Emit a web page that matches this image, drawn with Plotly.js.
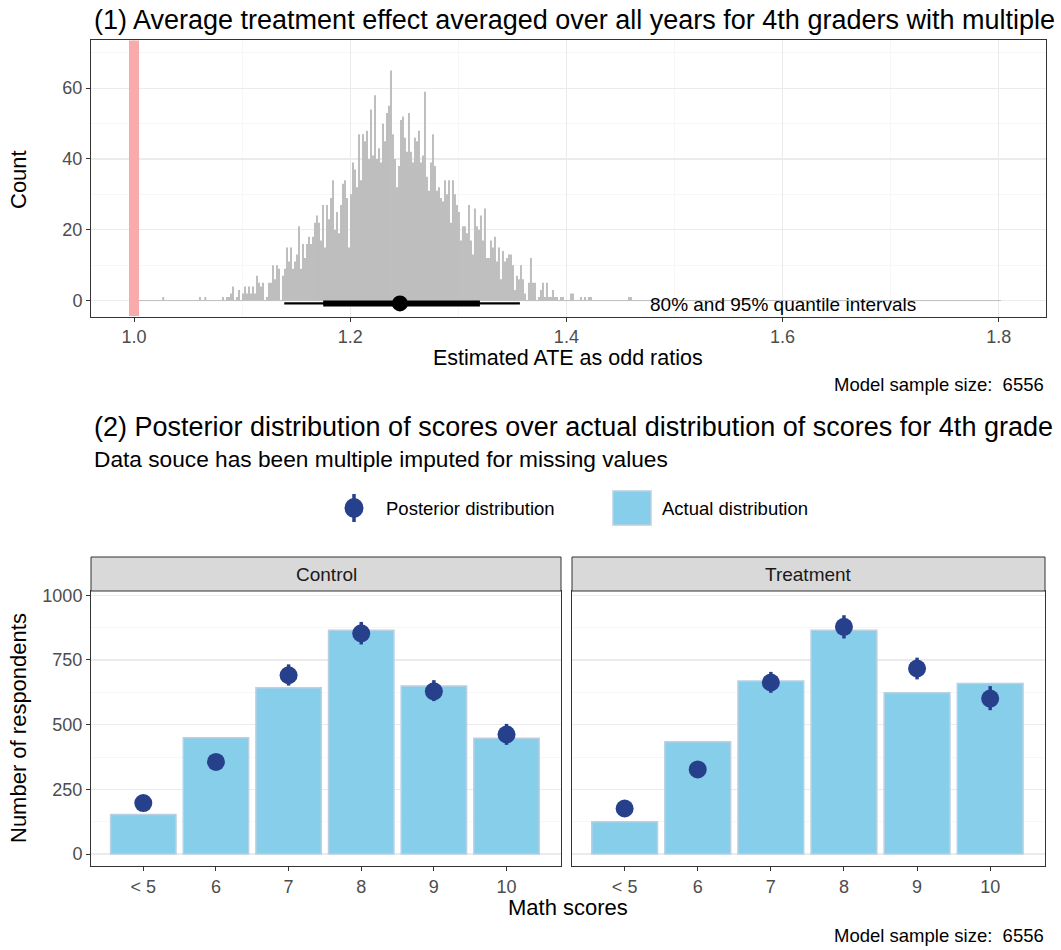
<!DOCTYPE html>
<html>
<head>
<meta charset="utf-8">
<script src="https://cdn.plot.ly/plotly-3.0.1.min.js"></script>
<style>html,body{margin:0;padding:0;background:#fff;}#chart{width:1061px;height:950px;}</style>
</head>
<body>
<div id="chart"></div>
<script>
// ---------- Panel (1) data: histogram of estimated ATE (odds ratios) ----------
const histStart = 1.0814;      // left edge of first listed bin
const binWidth = 0.00185;      // bin width (odds-ratio units)
const histCounts = [
  1,0,
  1,1,2,4,0,1,3,0,2,4,2,4,2,4,2,7,5,4,5,0,1,5,5,10,6,10,9,0,7,9,15,11,15,9,11,13,21,9,16,12,16,18,
  16,18,22,24,22,17,27,15,27,23,29,34,20,25,19,27,33,34,29,15,30,39,37,32,47,34,47,45,48,40,54,41,58,40,43,39,50,45,53,55,
  65,47,40,32,38,51,52,46,42,53,42,39,46,45,48,39,41,59,35,31,39,47,38,31,32,29,28,34,30,34,22,34,30,27,25,17,21,21,19,27,
  17,13,26,21,20,24,17,26,12,12,17,15,18,11,15,6,14,11,12,13,13,10,3,7,6,10,6,2,0,5,12,5,5,0,1,3,5,1,5,1,
  1,3,1,1,0,1,1,0,0,0,2,2,0,0,0,1,0,1,0,1,1,0,0,0,0,0,0,0,0,0,0,0,0,0,0,0,0,0,0,1,1
];
const tailValues = [1.027, 1.061, 1.066];   // isolated low draws
const tailCounts = [1, 1, 1];
const histRange = [1.004, 1.802];           // full data range (zero-count bins)
const nullValue = 1.0;
const q95 = [1.139, 1.357];
const q80 = [1.175, 1.320];
const medianATE = 1.246;
const xTicks1 = [1.0, 1.2, 1.4, 1.6, 1.8];
const xTickText1 = ['1.0', '1.2', '1.4', '1.6', '1.8'];
const yTicks1 = [0, 20, 40, 60];
const sampleSize = 6556;

// ---------- Panel (2) data: posterior vs actual score distribution ----------
const scoreCats = ['< 5', '6', '7', '8', '9', '10'];
const ctrlActual = [153, 449, 643, 865, 649, 447];
const ctrlPost   = [197, 356, 691, 853, 629, 462];
const ctrlLow    = [180, 338, 651, 810, 591, 422];
const ctrlHigh   = [215, 374, 733, 897, 672, 503];
const treatActual = [125, 434, 669, 865, 623, 659];
const treatPost   = [176, 327, 663, 878, 717, 601];
const treatLow    = [159, 310, 623, 833, 675, 556];
const treatHigh   = [194, 345, 704, 923, 759, 649];
const yTicks2 = [0, 250, 500, 750, 1000];

// ---------- styling ----------
const W = 1061, H = 950;
const FONT = 'Liberation Sans, Arial, Helvetica, sans-serif';
const GRAY = '#BEBEBE', DARK = '#27408B', SKY = '#87CEEB';
const px = v => v / W;
const py = v => 1 - v / H;

const binCenters = histCounts.map((c, i) => histStart + (i + 0.5) * binWidth);

const traces = [];
traces.push({type: 'scatter', mode: 'lines', x: histRange, y: [0, 0], xaxis: 'x', yaxis: 'y',
  line: {color: GRAY, width: 1}, hoverinfo: 'skip', showlegend: false});
traces.push({type: 'bar', x: binCenters, y: histCounts, width: binWidth, xaxis: 'x', yaxis: 'y',
  marker: {color: GRAY, line: {width: 0}}, showlegend: false});
traces.push({type: 'bar', x: tailValues, y: tailCounts, width: binWidth, xaxis: 'x', yaxis: 'y',
  marker: {color: GRAY, line: {width: 0}}, showlegend: false});
traces.push({type: 'scatter', mode: 'lines', x: q95, y: [-0.8, -0.8], xaxis: 'x', yaxis: 'y',
  line: {color: '#000', width: 2.2}, showlegend: false});
traces.push({type: 'scatter', mode: 'lines', x: q80, y: [-0.8, -0.8], xaxis: 'x', yaxis: 'y',
  line: {color: '#000', width: 6}, showlegend: false});
traces.push({type: 'scatter', mode: 'markers', x: [medianATE], y: [-0.8], xaxis: 'x', yaxis: 'y',
  marker: {color: '#000', size: 16}, showlegend: false});

function facet(actual, post, low, high, xa, ya) {
  traces.push({type: 'bar', x: scoreCats, y: actual, width: 0.9, xaxis: xa, yaxis: ya,
    marker: {color: SKY, line: {color: '#B9D0E2', width: 1.5}}, showlegend: false});
  traces.push({type: 'scatter', mode: 'markers', x: scoreCats, y: post, xaxis: xa, yaxis: ya,
    marker: {color: DARK, size: 18},
    error_y: {type: 'data', symmetric: false,
      array: high.map((h, i) => h - post[i]), arrayminus: low.map((l, i) => post[i] - l),
      thickness: 3.5, width: 0, color: DARK},
    showlegend: false});
}
facet(ctrlActual, ctrlPost, ctrlLow, ctrlHigh, 'x2', 'y2');
facet(treatActual, treatPost, treatLow, treatHigh, 'x3', 'y3');

const TICK = 18;
const axisBase = {
  showline: true, mirror: true, linecolor: '#333333', linewidth: 1,
  ticks: 'outside', ticklen: 4, tickcolor: '#333333', tickwidth: 1,
  zeroline: false, tickfont: {family: FONT, size: TICK, color: '#4D4D4D'},
  gridcolor: '#EBEBEB', gridwidth: 1.1
};

const layout = {
  width: W, height: H,
  margin: {l: 0, r: 0, t: 0, b: 0},
  paper_bgcolor: '#fff', plot_bgcolor: '#fff',
  font: {family: FONT, color: '#000'},
  showlegend: false,
  xaxis: Object.assign({}, axisBase, {
    domain: [px(91), px(1046)], anchor: 'y', range: [0.9602, 1.8437],
    tickmode: 'array', tickvals: xTicks1, ticktext: xTickText1, showgrid: true,
    minor: {tickvals: [1.1, 1.3, 1.5, 1.7], showgrid: true, gridcolor: '#F2F2F2', gridwidth: 0.6, ticks: ''}
  }),
  yaxis: Object.assign({}, axisBase, {
    domain: [py(316.5), py(40)], anchor: 'x', range: [-4.5, 73.6],
    tickmode: 'array', tickvals: yTicks1, showgrid: true,
    minor: {tickvals: [10, 30, 50, 70], showgrid: true, gridcolor: '#F2F2F2', gridwidth: 0.6, ticks: ''}
  }),
  xaxis2: Object.assign({}, axisBase, {
    domain: [px(91), px(561)], anchor: 'y2', type: 'category', range: [-0.72, 5.75],
    showgrid: false
  }),
  yaxis2: Object.assign({}, axisBase, {
    domain: [py(866), py(591)], anchor: 'x2', range: [-46.3, 1016.6],
    tickmode: 'array', tickvals: yTicks2, showgrid: true,
    minor: {tickvals: [125, 375, 625, 875], showgrid: true, gridcolor: '#F2F2F2', gridwidth: 0.6, ticks: ''}
  }),
  xaxis3: Object.assign({}, axisBase, {
    domain: [px(572), px(1045)], anchor: 'y3', type: 'category', range: [-0.72, 5.75],
    showgrid: false
  }),
  yaxis3: Object.assign({}, axisBase, {
    domain: [py(866), py(591)], anchor: 'x3', range: [-46.3, 1016.6],
    tickmode: 'array', tickvals: yTicks2, showgrid: true, showticklabels: false, ticks: '',
    minor: {tickvals: [125, 375, 625, 875], showgrid: true, gridcolor: '#F2F2F2', gridwidth: 0.6, ticks: ''}
  }),
  shapes: [
    {type: 'line', xref: 'x', yref: 'paper', x0: nullValue, x1: nullValue, y0: py(316), y1: py(40.5),
      line: {color: '#F9AAAA', width: 10}, layer: 'above'},
    {type: 'rect', xref: 'paper', yref: 'paper', x0: px(91), x1: px(561), y0: py(591), y1: py(557),
      fillcolor: '#D9D9D9', line: {color: '#333333', width: 1}},
    {type: 'rect', xref: 'paper', yref: 'paper', x0: px(572), x1: px(1045), y0: py(591), y1: py(557),
      fillcolor: '#D9D9D9', line: {color: '#333333', width: 1}},
    // legend keys
    {type: 'line', xref: 'paper', yref: 'paper', x0: px(354), x1: px(354), y0: py(522), y1: py(494),
      line: {color: DARK, width: 3.5}},
    {type: 'circle', xref: 'paper', yref: 'paper', x0: px(344.5), x1: px(363.5), y0: py(518), y1: py(498),
      fillcolor: DARK, line: {color: DARK, width: 0}},
    {type: 'rect', xref: 'paper', yref: 'paper', x0: px(613), x1: px(651), y0: py(525), y1: py(491),
      fillcolor: SKY, line: {color: '#B9D0E2', width: 1.5}}
  ],
  annotations: [
    {xref: 'paper', yref: 'paper', x: px(92), y: py(20), xanchor: 'left', yanchor: 'middle', showarrow: false,
      text: '(1) Average treatment effect averaged over all years for 4th graders with multiple',
      font: {size: 27, color: '#000'}},
    {xref: 'paper', yref: 'paper', x: px(18), y: py(180), xanchor: 'center', yanchor: 'middle', showarrow: false,
      text: 'Count', textangle: -90, font: {size: 22, color: '#000'}},
    {xref: 'paper', yref: 'paper', x: px(568), y: py(358), xanchor: 'center', yanchor: 'middle', showarrow: false,
      text: 'Estimated ATE as odd ratios', font: {size: 21.5, color: '#000'}, borderpad: 0},
    {xref: 'x', yref: 'y', x: 1.6, y: -1.1, xanchor: 'center', yanchor: 'middle', showarrow: false,
      text: '80% and 95% quantile intervals', font: {size: 19, color: '#000'}},
    {xref: 'paper', yref: 'paper', x: px(1046), y: py(385), xanchor: 'right', yanchor: 'middle', showarrow: false,
      text: 'Model sample size:  ' + sampleSize, font: {size: 18.5, color: '#000'}},
    {xref: 'paper', yref: 'paper', x: px(92), y: py(427), xanchor: 'left', yanchor: 'middle', showarrow: false,
      text: '(2) Posterior distribution of scores over actual distribution of scores for 4th grade',
      font: {size: 27, color: '#000'}},
    {xref: 'paper', yref: 'paper', x: px(92), y: py(459), xanchor: 'left', yanchor: 'middle', showarrow: false,
      text: 'Data souce has been multiple imputed for missing values', font: {size: 22.7, color: '#000'}},
    {xref: 'paper', yref: 'paper', x: px(384), y: py(508), xanchor: 'left', yanchor: 'middle', showarrow: false,
      text: 'Posterior distribution', font: {size: 18.5, color: '#000'}},
    {xref: 'paper', yref: 'paper', x: px(660), y: py(508), xanchor: 'left', yanchor: 'middle', showarrow: false,
      text: 'Actual distribution', font: {size: 18.5, color: '#000'}},
    {xref: 'paper', yref: 'paper', x: px(326), y: py(574), xanchor: 'center', yanchor: 'middle', showarrow: false,
      text: 'Control', font: {size: 19, color: '#1A1A1A'}},
    {xref: 'paper', yref: 'paper', x: px(808.5), y: py(574), xanchor: 'center', yanchor: 'middle', showarrow: false,
      text: 'Treatment', font: {size: 19, color: '#1A1A1A'}},
    {xref: 'paper', yref: 'paper', x: px(18), y: py(728), xanchor: 'center', yanchor: 'middle', showarrow: false,
      text: 'Number of respondents', textangle: -90, font: {size: 22, color: '#000'}},
    {xref: 'paper', yref: 'paper', x: px(568), y: py(907), xanchor: 'center', yanchor: 'middle', showarrow: false,
      text: 'Math scores', font: {size: 22, color: '#000'}},
    {xref: 'paper', yref: 'paper', x: px(1046), y: py(935), xanchor: 'right', yanchor: 'middle', showarrow: false,
      text: 'Model sample size:  ' + sampleSize, font: {size: 18.5, color: '#000'}}
  ]
};

Plotly.newPlot('chart', traces, layout, {staticPlot: true, displayModeBar: false});
</script>
</body>
</html>
